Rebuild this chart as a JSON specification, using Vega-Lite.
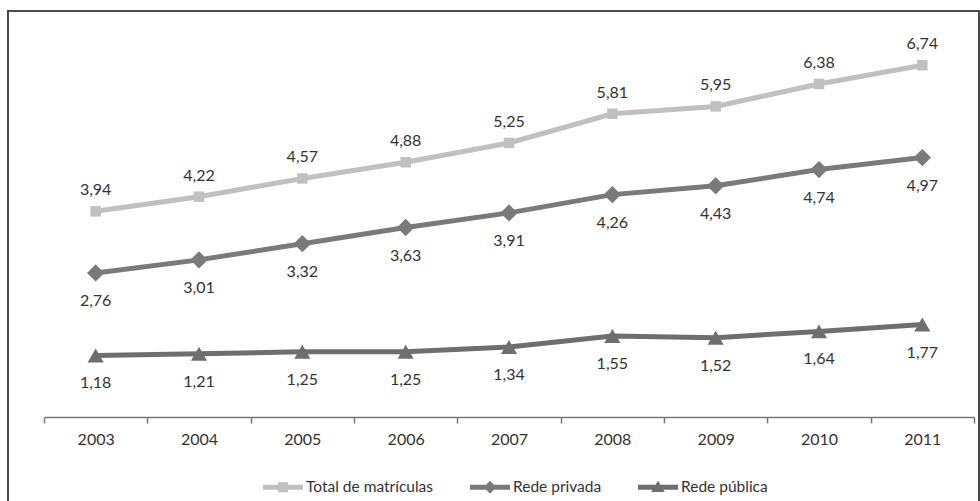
{
  "$schema": "https://vega.github.io/schema/vega-lite/v6.json",
  "width": 971,
  "height": 500,
  "autosize": {"type": "none"},
  "padding": {"left": 8, "top": 11, "right": 1, "bottom": 0},
  "config": {
    "locale": {"number": {"decimal": ",", "thousands": ".", "grouping": [3], "currency": ["", ""]}},
    "view": {"stroke": "#4a4a4a", "strokeWidth": 2},
    "font": "Lato"
  },
  "data": {
    "values": [
      {"year": "2003", "series": "Total de matrículas", "value": 3.94},
      {"year": "2004", "series": "Total de matrículas", "value": 4.22},
      {"year": "2005", "series": "Total de matrículas", "value": 4.57},
      {"year": "2006", "series": "Total de matrículas", "value": 4.88},
      {"year": "2007", "series": "Total de matrículas", "value": 5.25},
      {"year": "2008", "series": "Total de matrículas", "value": 5.81},
      {"year": "2009", "series": "Total de matrículas", "value": 5.95},
      {"year": "2010", "series": "Total de matrículas", "value": 6.38},
      {"year": "2011", "series": "Total de matrículas", "value": 6.74},
      {"year": "2003", "series": "Rede privada", "value": 2.76},
      {"year": "2004", "series": "Rede privada", "value": 3.01},
      {"year": "2005", "series": "Rede privada", "value": 3.32},
      {"year": "2006", "series": "Rede privada", "value": 3.63},
      {"year": "2007", "series": "Rede privada", "value": 3.91},
      {"year": "2008", "series": "Rede privada", "value": 4.26},
      {"year": "2009", "series": "Rede privada", "value": 4.43},
      {"year": "2010", "series": "Rede privada", "value": 4.74},
      {"year": "2011", "series": "Rede privada", "value": 4.97},
      {"year": "2003", "series": "Rede pública", "value": 1.18},
      {"year": "2004", "series": "Rede pública", "value": 1.21},
      {"year": "2005", "series": "Rede pública", "value": 1.25},
      {"year": "2006", "series": "Rede pública", "value": 1.25},
      {"year": "2007", "series": "Rede pública", "value": 1.34},
      {"year": "2008", "series": "Rede pública", "value": 1.55},
      {"year": "2009", "series": "Rede pública", "value": 1.52},
      {"year": "2010", "series": "Rede pública", "value": 1.64},
      {"year": "2011", "series": "Rede pública", "value": 1.77}
    ]
  },
  "encoding": {
    "x": {
      "field": "year",
      "type": "ordinal",
      "scale": {"type": "band", "paddingInner": 0, "paddingOuter": 0, "range": [36, 966]},
      "axis": {
        "title": null,
        "offset": -94,
        "domain": true,
        "domainColor": "#777777",
        "domainWidth": 1.5,
        "tickBand": "extent",
        "tickColor": "#777777",
        "tickWidth": 1.5,
        "tickSize": 6,
        "labelAngle": 0,
        "labelFontSize": 16,
        "labelColor": "#333333",
        "labelPadding": 8
      }
    },
    "y": {
      "field": "value",
      "type": "quantitative",
      "scale": {"domain": [-1.801, 7.778], "nice": false, "zero": false},
      "axis": null
    },
    "color": {
      "field": "series",
      "type": "nominal",
      "sort": ["Total de matrículas", "Rede privada", "Rede pública"],
      "scale": {
        "domain": ["Total de matrículas", "Rede privada", "Rede pública"],
        "range": ["#c0c0c0", "#7a7a7a", "#6e6e6e"]
      },
      "legend": {
        "orient": "none",
        "legendX": 255,
        "legendY": 456,
        "direction": "horizontal",
        "columns": 3,
        "title": null,
        "padding": 0,
        "labelFontSize": 15.5,
        "labelColor": "#333333",
        "labelOffset": 3,
        "symbolSize": 1600,
        "columnPadding": 36,
        "symbolStrokeWidth": 0,
        "encode": {
          "symbols": {
            "update": {
              "shape": {"signal": "datum.value === 'Total de matrículas' ? 'M-1,-0.12H1V0.12H-1Z M-0.25,-0.25H0.25V0.25H-0.25Z' : datum.value === 'Rede privada' ? 'M-1,-0.12H1V0.12H-1Z M0,-0.32L0.32,0L0,0.32L-0.32,0Z' : 'M-1,-0.12H1V0.12H-1Z M0,-0.32L0.34,0.24H-0.34Z'"},
              "fill": {"signal": "scale('color', datum.value)"},
              "fillOpacity": {"value": 1},
              "strokeWidth": {"value": 0}
            }
          }
        }
      }
    }
  },
  "layer": [
    {
      "mark": {"type": "line", "strokeWidth": 5}
    },
    {
      "transform": [{"filter": "datum.series === 'Total de matrículas'"}],
      "mark": {"type": "point", "filled": true, "opacity": 1, "shape": "square", "size": 110}
    },
    {
      "transform": [{"filter": "datum.series === 'Rede privada'"}],
      "mark": {"type": "point", "filled": true, "opacity": 1, "shape": "diamond", "size": 300}
    },
    {
      "transform": [{"filter": "datum.series === 'Rede pública'"}],
      "mark": {"type": "point", "filled": true, "opacity": 1, "shape": "triangle-up", "size": 260}
    },
    {
      "transform": [{"filter": "datum.series === 'Total de matrículas'"}],
      "mark": {"type": "text", "dy": -21, "fontSize": 16, "baseline": "middle"},
      "encoding": {
        "text": {"field": "value", "type": "quantitative", "format": ".2f"},
        "color": {"value": "#333333"}
      }
    },
    {
      "transform": [{"filter": "datum.series !== 'Total de matrículas'"}],
      "mark": {"type": "text", "dy": 28, "fontSize": 16, "baseline": "middle"},
      "encoding": {
        "text": {"field": "value", "type": "quantitative", "format": ".2f"},
        "color": {"value": "#333333"}
      }
    }
  ]
}
